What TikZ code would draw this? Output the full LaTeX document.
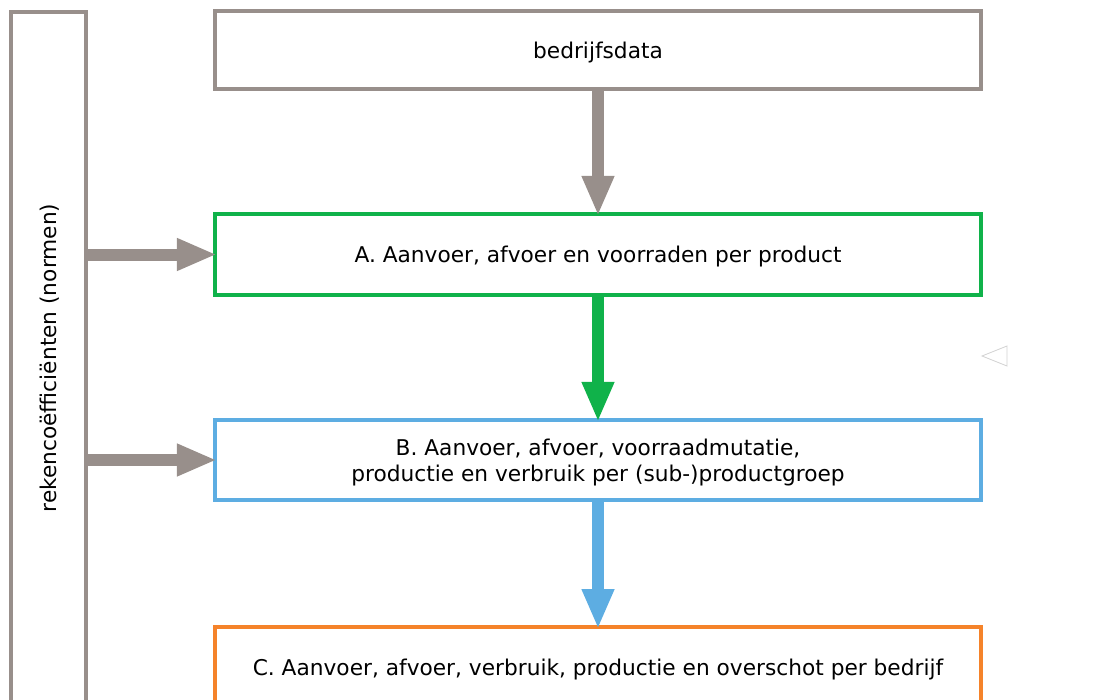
\documentclass[tikz,border=0pt]{standalone}
\usepackage{fontspec}
\setmainfont{DejaVu Sans}
\usetikzlibrary{arrows.meta}
\definecolor{cgrey}{RGB}{152,143,139}
\definecolor{cgreen}{RGB}{16,178,74}
\definecolor{cblue}{RGB}{93,173,226}
\definecolor{corange}{RGB}{245,131,42}
\tikzset{
  txt/.style={font=\fontsize{21.7}{25.5}\selectfont},
  box/.style={draw=#1, line width=4.3pt, fill=white, minimum width=766pt, inner sep=0pt,
    align=center, text depth=0pt, txt},
  fat/.style={draw=#1, line width=12pt, shorten >=-4pt, -{Triangle[width=30pt,length=40pt]}},
}
\begin{document}
\begin{tikzpicture}[x=1pt,y=-1pt]
\useasboundingbox (0,0) rectangle (1095,699);
\clip (0,0) rectangle (1095,699);
\node[draw=cgrey, line width=4.3pt, minimum width=75.5pt, minimum height=780pt, inner sep=0pt, anchor=north west] (norm) at (8.5,10) {};
\node[rotate=90, txt] (normtext) at (50,358) {rekencoëfficiënten (normen)};
\node[box=cgrey, minimum height=78pt] (bed) at (598,50) {bedrijfsdata};
\node[box=cgreen, minimum height=81pt] (A) at (598,254.5) {A. Aanvoer, afvoer en voorraden per product};
\node[box=cblue, minimum height=80pt] (B) at (598,460) {B. Aanvoer, afvoer, voorraadmutatie,\\productie en verbruik per (sub-)productgroep};
\node[box=corange, minimum height=100pt, anchor=north] (C) at (598,625) {};
\node[txt, text depth=0pt] (Ct) at (598,667) {C. Aanvoer, afvoer, verbruik, productie en overschot per bedrijf};
\draw[fat=cgrey] (bed.south) -- (A.north);
\draw[fat=cgreen] (A.south) -- (B.north);
\draw[fat=cblue] (B.south) -- (C.north);
\draw[fat=cgrey] (norm.east |- A.west) -- (A.west);
\draw[fat=cgrey] (norm.east |- B.west) -- (B.west);
\coordinate (t1) at (982,356);
\coordinate (t2) at (1007,346);
\coordinate (t3) at (1007,366);
\draw[black!18, line width=0.8pt] (t1) -- (t2) -- (t3) -- cycle;
\end{tikzpicture}
\end{document}
